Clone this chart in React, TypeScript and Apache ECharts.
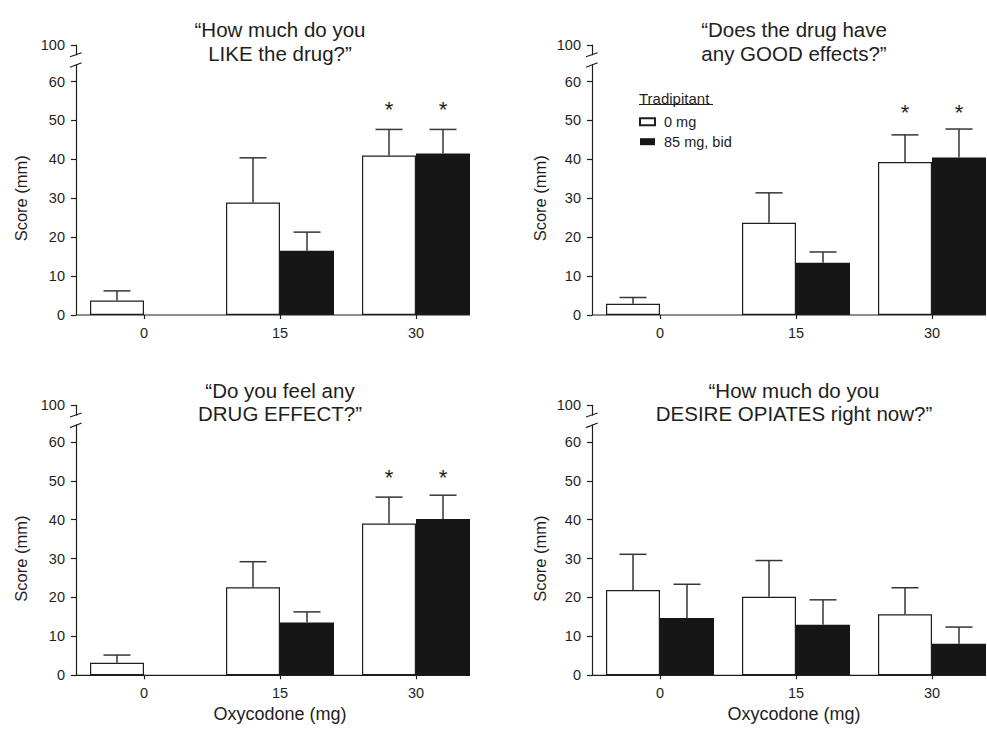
import React, { useEffect, useRef } from "react";
import * as echarts from "echarts";

// ---------- data ----------
const doses = ["0", "15", "30"];
const panelTitles = [
  "\u201CHow much do you\nLIKE the drug?\u201D",
  "\u201CDoes the drug have\nany GOOD effects?\u201D",
  "\u201CDo you feel any\nDRUG EFFECT?\u201D",
  "\u201CHow much do you\nDESIRE OPIATES right now?\u201D",
];
const seriesNames = ["0 mg", "85 mg, bid"];
const legendHeading = "Tradipitant";
const yAxisName = "Score (mm)";
const xAxisName = "Oxycodone (mg)";
const yTickValues = [0, 10, 20, 30, 40, 50, 60];
const yBreakValue = 69.4; // drawn position of the broken-axis "100" tick
const yBreakLabel = "100";

// mean scores (mm) per panel, per oxycodone dose
const placeboMean = [
  [3.7, 28.9, 41.0],
  [2.9, 23.7, 39.3],
  [3.2, 22.6, 39.0],
  [21.9, 20.2, 15.7],
];
const placeboUpper = [
  [6.2, 40.4, 47.7],
  [4.5, 31.4, 46.3],
  [5.2, 29.2, 45.8],
  [31.1, 29.5, 22.5],
];
const tradMean = [
  [0, 16.5, 41.5],
  [0, 13.4, 40.5],
  [0, 13.6, 40.2],
  [14.7, 13.0, 8.1],
];
const tradUpper = [
  [null, 21.3, 47.7],
  [null, 16.2, 47.8],
  [null, 16.3, 46.3],
  [23.4, 19.4, 12.4],
];
// significance stars: dose index and level per panel
const starDoses = [[2], [2], [2], []];
const starLevel = [53.5, 52.7, 51.6, 0];

// ---------- layout / style ----------
const FONT = "'Liberation Sans', Arial, Helvetica, sans-serif";
const INK = "#1e1e1e";
const GRIDS = [
  { left: 76, top: 45 },
  { left: 592, top: 45 },
  { left: 76, top: 405.3 },
  { left: 592, top: 405.3 },
];
const GRID_W = 408;
const GRID_H = 270;
const BAR_W = 54;
const TITLE_X = [280, 794, 280, 794];
const YNAME_X = [21, 540, 21, 540];

export default function App() {
  const ref = useRef<HTMLDivElement>(null);

  useEffect(() => {
    if (!ref.current) return;
    const chart = echarts.init(ref.current, null, { renderer: "svg" });

    const grid = GRIDS.map((g) => ({
      left: g.left,
      top: g.top,
      width: GRID_W,
      height: GRID_H,
      containLabel: false,
    }));

    const xAxis = GRIDS.map((_, p) => ({
      type: "category",
      gridIndex: p,
      data: doses,
      axisLine: { show: false },
      axisTick: { show: true, alignWithLabel: true, length: 4, lineStyle: { color: INK, width: 1.2 } },
      axisLabel: { margin: 10, fontSize: 14.5, color: INK, fontFamily: FONT },
      splitLine: { show: false },
    }));

    const tickVals = [...yTickValues, yBreakValue];
    const yAxis = GRIDS.map((_, p) => ({
      type: "value",
      gridIndex: p,
      min: 0,
      max: yBreakValue,
      interval: 10,
      axisLine: { show: true, lineStyle: { color: INK, width: 1.2 } },
      axisTick: { show: true, length: 5, customValues: tickVals, lineStyle: { color: INK, width: 1.2 } },
      axisLabel: {
        margin: 11,
        fontSize: 14.5,
        color: INK,
        fontFamily: FONT,
        customValues: tickVals,
        formatter: (v: number) => (v > 65 ? yBreakLabel : String(v)),
      },
      splitLine: { show: false },
    }));

    const series: any[] = [];
    GRIDS.forEach((_, p) => {
      series.push({
        type: "bar",
        name: seriesNames[0],
        xAxisIndex: p,
        yAxisIndex: p,
        data: placeboMean[p],
        barWidth: BAR_W,
        barGap: "0%",
        itemStyle: { color: "#ffffff", borderColor: INK, borderWidth: 1.2 },
        z: 2,
      });
      series.push({
        type: "bar",
        name: seriesNames[1],
        xAxisIndex: p,
        yAxisIndex: p,
        data: tradMean[p],
        barWidth: BAR_W,
        barGap: "0%",
        itemStyle: { color: "#161616", borderColor: "#161616", borderWidth: 0 },
        z: 2,
      });
      const errData: any[] = [];
      doses.forEach((_, i) => {
        if (placeboUpper[p][i] != null) errData.push([i, 0, placeboMean[p][i], placeboUpper[p][i]]);
        if (tradUpper[p][i] != null) errData.push([i, 1, tradMean[p][i], tradUpper[p][i]]);
      });
      series.push({
        type: "custom",
        name: "err" + p,
        xAxisIndex: p,
        yAxisIndex: p,
        data: errData,
        encode: { x: 0, y: [2, 3] },
        z: 3,
        silent: true,
        renderItem: (params: any, api: any) => {
          const i = api.value(0);
          const s = api.value(1);
          const b = api.coord([i, api.value(2)]);
          const t = api.coord([i, api.value(3)]);
          const x = b[0] + (s === 0 ? -BAR_W / 2 : BAR_W / 2);
          const st = { stroke: "#353535", lineWidth: 1.5 };
          return {
            type: "group",
            children: [
              { type: "line", shape: { x1: x, y1: b[1], x2: x, y2: t[1] }, style: st },
              { type: "line", shape: { x1: x - BAR_W / 4, y1: t[1], x2: x + BAR_W / 4, y2: t[1] }, style: st },
            ],
          };
        },
      });
      const starData: any[] = [];
      starDoses[p].forEach((d) => {
        starData.push([d, 0, starLevel[p]]);
        starData.push([d, 1, starLevel[p]]);
      });
      if (starData.length) {
        series.push({
          type: "custom",
          name: "stars" + p,
          xAxisIndex: p,
          yAxisIndex: p,
          data: starData,
          encode: { x: 0, y: 2 },
          z: 3,
          silent: true,
          renderItem: (params: any, api: any) => {
            const c = api.coord([api.value(0), api.value(2)]);
            const x = c[0] + (api.value(1) === 0 ? -BAR_W / 2 : BAR_W / 2);
            return {
              type: "text",
              x,
              y: c[1] + 2.5,
              style: {
                text: "*",
                fontSize: 22,
                fontFamily: FONT,
                fill: INK,
                align: "center",
                verticalAlign: "middle",
              },
            };
          },
        });
      }
    });

    const graphic: any[] = [];
    GRIDS.forEach((g, p) => {
      const L = g.left;
      const T = g.top;
      const B = g.top + GRID_H;
      // x axis baseline (ends at last bar edge)
      graphic.push({
        type: "line",
        z: 10,
        shape: { x1: L, y1: B, x2: L + GRID_W - (GRID_W / 3 - 2 * BAR_W) / 2, y2: B },
        style: { stroke: INK, lineWidth: 1.2 },
      });
      // axis break
      graphic.push({
        type: "rect",
        z: 10,
        shape: { x: L - 2.5, y: T + 10.3, width: 5, height: 9.2 },
        style: { fill: "#ffffff" },
      });
      graphic.push({
        type: "line",
        z: 11,
        shape: { x1: L - 6, y1: T + 11.7, x2: L + 5.7, y2: T + 7.7 },
        style: { stroke: INK, lineWidth: 1.2 },
      });
      graphic.push({
        type: "line",
        z: 11,
        shape: { x1: L - 6, y1: T + 22.3, x2: L + 5.7, y2: T + 17.7 },
        style: { stroke: INK, lineWidth: 1.2 },
      });
      // title
      graphic.push({
        type: "text",
        z: 12,
        x: TITLE_X[p],
        y: T - 27,
        style: {
          text: panelTitles[p],
          fontSize: 20.5,
          lineHeight: 23.5,
          fontFamily: FONT,
          fill: INK,
          align: "center",
          verticalAlign: "top",
        },
      });
      // y axis name, centred on the 0-60 span
      graphic.push({
        type: "text",
        z: 12,
        x: YNAME_X[p],
        y: B - (GRID_H * 60) / yBreakValue / 2,
        rotation: Math.PI / 2,
        style: {
          text: yAxisName,
          fontSize: 16.5,
          fontFamily: FONT,
          fill: INK,
          align: "center",
          verticalAlign: "middle",
        },
      });
      if (p >= 2) {
        graphic.push({
          type: "text",
          z: 12,
          x: TITLE_X[p],
          y: B + 38.5,
          style: {
            text: xAxisName,
            fontSize: 18,
            fontFamily: FONT,
            fill: INK,
            align: "center",
            verticalAlign: "middle",
          },
        });
      }
    });
    // legend heading (underlined)
    graphic.push({
      type: "text",
      z: 12,
      x: 639,
      y: 98,
      style: {
        text: legendHeading,
        fontSize: 15,
        fontFamily: FONT,
        fill: INK,
        align: "left",
        verticalAlign: "middle",
      },
    });
    graphic.push({
      type: "line",
      z: 12,
      shape: { x1: 639, y1: 104.5, x2: 713, y2: 104.5 },
      style: { stroke: INK, lineWidth: 1 },
    });

    chart.setOption({
      animation: false,
      backgroundColor: "#ffffff",
      textStyle: { fontFamily: FONT, color: INK },
      grid,
      xAxis,
      yAxis,
      legend: {
        data: seriesNames,
        orient: "vertical",
        left: 639,
        top: 114.2,
        padding: 0,
        itemWidth: 15,
        itemHeight: 7,
        itemGap: 5,
        icon: "rect",
        selectedMode: false,
        textStyle: { fontSize: 14.5, color: INK, fontFamily: FONT, lineHeight: 14.5, padding: [0, 0, 0, 4] },
      },
      series,
      graphic,
    });

    return () => chart.dispose();
  }, []);

  return (
    <div
      style={{
        position: "absolute",
        left: 0,
        top: 0,
        width: 987,
        height: 729,
        overflow: "hidden",
        background: "#fff",
      }}
    >
      <div ref={ref} style={{ width: 1000, height: 729 }} />
    </div>
  );
}
